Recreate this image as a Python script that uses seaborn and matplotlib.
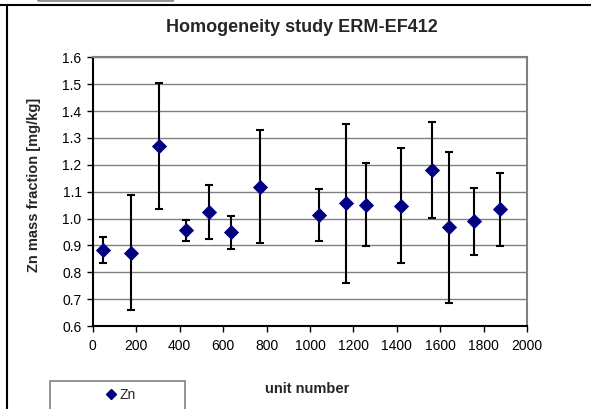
import matplotlib
matplotlib.use("Agg")
import matplotlib.pyplot as plt
import seaborn as sns
import pandas as pd
from matplotlib.lines import Line2D
from matplotlib.patches import Rectangle

# Homogeneity study data: unit number, Zn mass fraction and its uncertainty
unit_number = [46, 175, 305, 428, 537, 638, 770, 1041, 1166, 1258, 1417, 1560, 1638, 1755, 1874]
zn_mass = [0.882, 0.873, 1.269, 0.956, 1.024, 0.949, 1.119, 1.012, 1.056, 1.052,
           1.047, 1.180, 0.967, 0.989, 1.034]
zn_unc = [0.049, 0.213, 0.234, 0.039, 0.100, 0.061, 0.209, 0.097, 0.297, 0.153,
          0.214, 0.178, 0.281, 0.123, 0.135]
x_ticks = [0, 200, 400, 600, 800, 1000, 1200, 1400, 1600, 1800, 2000]
y_ticks = [0.6, 0.7, 0.8, 0.9, 1.0, 1.1, 1.2, 1.3, 1.4, 1.5, 1.6]

df = pd.DataFrame({"unit": unit_number, "Zn": zn_mass, "unc": zn_unc})

sns.set_style("white")
plt.rcParams["font.family"] = ["Liberation Sans", "DejaVu Sans"]

W, H = 591, 409
fig = plt.figure(figsize=(W / 100, H / 100), dpi=100)


def fx(px):
    return px / W


def fy(py):
    return 1 - py / H


ax = fig.add_axes([fx(92.7), fy(326), fx(527.3) - fx(92.7), fy(57.3) - fy(326)])

navy = "#000080"
ax.errorbar(df["unit"], df["Zn"], yerr=df["unc"], fmt="none", ecolor="black",
            elinewidth=1.5, capsize=3, capthick=1.5, zorder=3)
sns.scatterplot(data=df, x="unit", y="Zn", marker="D", s=60, color=navy,
                edgecolor=navy, linewidth=0, ax=ax, zorder=4, label="Zn", legend=False)

ax.set_xlim(0, 2000)
ax.set_ylim(0.6, 1.6)
ax.set_xticks(x_ticks)
ax.set_yticks(y_ticks)
ax.set_yticklabels([f"{v:.1f}" for v in y_ticks])
ax.tick_params(axis="both", labelsize=10, direction="out", length=4, width=1,
               colors="black", pad=4)
ax.tick_params(axis="x", pad=5)
ax.tick_params(axis="y", left=True)
ax.tick_params(axis="x", bottom=True)

ax.yaxis.grid(True, color="#808080", linewidth=1)
ax.xaxis.grid(False)
ax.set_axisbelow(True)

for side in ("left", "bottom"):
    ax.spines[side].set_color("black")
    ax.spines[side].set_linewidth(1.5)
for side in ("top", "right"):
    ax.spines[side].set_color("#808080")
    ax.spines[side].set_linewidth(1.5)

ax.set_xlabel("unit number", fontsize=10.5, fontweight="bold")
ax.set_ylabel("Zn mass fraction [mg/kg]", fontsize=10.5, fontweight="bold")
ax.xaxis.set_label_coords((307 - 92.7) / 435, (326 - 382) / 268.7)
ax.yaxis.set_label_coords((41 - 92.7) / 435, (326 - 185) / 268.7)

fig.text(fx(302), fy(27), "Homogeneity study ERM-EF412", ha="center", va="center",
         fontsize=13, fontweight="bold")

# Chart frame
fig.add_artist(Line2D([0, 1], [fy(4.5), fy(4.5)], transform=fig.transFigure,
                      color="black", linewidth=1.5))
fig.add_artist(Line2D([fx(7), fx(7)], [fy(4.5), 0], transform=fig.transFigure,
                      color="black", linewidth=1.5))
fig.add_artist(Rectangle((fx(38), fy(0.5)), fx(173) - fx(38), 0.05,
                         transform=fig.transFigure, fill=False,
                         edgecolor="#808080", linewidth=1.2))

# Legend box at the bottom
fig.add_artist(Rectangle((fx(50), fy(430)), fx(185) - fx(50), fy(381) - fy(430),
                         transform=fig.transFigure, facecolor="white",
                         edgecolor="#808080", linewidth=1.2))
handle = Line2D([], [], marker="D", color=navy, linestyle="none", markersize=5)
fig.legend([handle], ["Zn"], loc="center", bbox_to_anchor=(fx(121), fy(395)),
           frameon=False, fontsize=10, handlelength=0.8, handletextpad=0.2,
           borderpad=0)

fig.savefig("out.png", dpi=100)
